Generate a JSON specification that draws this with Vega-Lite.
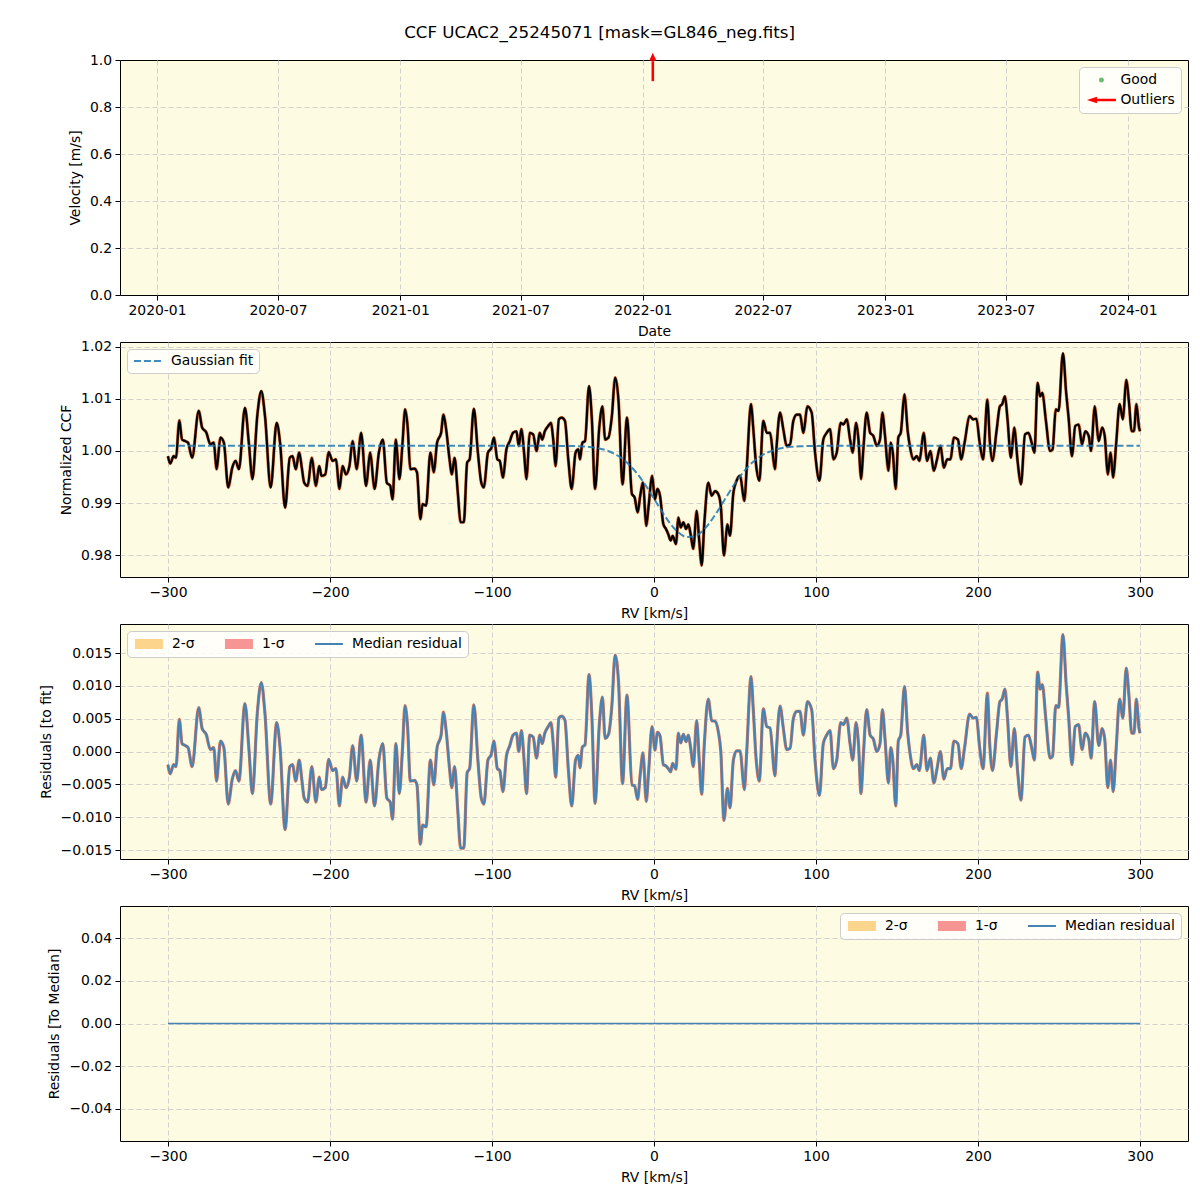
{
  "$schema": "https://vega.github.io/schema/vega-lite/v6.json",
  "padding": {"left": 38, "top": 24, "right": 12, "bottom": 10},
  "title": {"text": "CCF UCAC2_25245071 [mask=GL846_neg.fits]", "font": "DejaVu Sans", "fontSize": 16.7, "fontWeight": "normal", "color": "black", "anchor": "middle", "offset": 11, "dx": -14},
  "bounds": "flush",
  "spacing": 47,
  "datasets": {
    "ccf": [
      {"rv":-300,"ccf":0.9990,"res":-0.0020},{"rv":-298.6,"ccf":0.9976,"res":-0.0034},{"rv":-296.5,"ccf":0.9990,"res":-0.0020},{"rv":-295,"ccf":0.9987,"res":-0.0023},{"rv":-293,"ccf":1.0059,"res":0.0049},{"rv":-291.3,"ccf":1.0022,"res":0.0012},{"rv":-289.3,"ccf":1.0019,"res":0.0009},{"rv":-287.6,"ccf":1.0016,"res":0.0006},{"rv":-285.1,"ccf":0.9987,"res":-0.0023},{"rv":-281,"ccf":1.0077,"res":0.0067},
      {"rv":-278.9,"ccf":1.0045,"res":0.0035},{"rv":-276.4,"ccf":1.0036,"res":0.0026},{"rv":-273.8,"ccf":1.0013,"res":0.0003},{"rv":-271.7,"ccf":1.0016,"res":0.0006},{"rv":-270,"ccf":0.9965,"res":-0.0045},{"rv":-267.6,"ccf":1.0026,"res":0.0016},{"rv":-265.5,"ccf":1.0016,"res":0.0006},{"rv":-262.8,"ccf":0.9930,"res":-0.0080},{"rv":-260.3,"ccf":0.9968,"res":-0.0042},{"rv":-258.3,"ccf":0.9981,"res":-0.0029},
      {"rv":-256.2,"ccf":0.9965,"res":-0.0045},{"rv":-252.5,"ccf":1.0083,"res":0.0073},{"rv":-250,"ccf":1.0013,"res":0.0003},{"rv":-247.9,"ccf":0.9946,"res":-0.0064},{"rv":-244.8,"ccf":1.0070,"res":0.0060},{"rv":-242.4,"ccf":1.0115,"res":0.0105},{"rv":-240.1,"ccf":1.0067,"res":0.0057},{"rv":-236.6,"ccf":0.9930,"res":-0.0080},{"rv":-232.9,"ccf":1.0054,"res":0.0044},{"rv":-230.8,"ccf":1.0016,"res":0.0006},
      {"rv":-227.7,"ccf":0.9891,"res":-0.0119},{"rv":-224.8,"ccf":0.9987,"res":-0.0023},{"rv":-223.1,"ccf":0.9990,"res":-0.0020},{"rv":-221.1,"ccf":0.9965,"res":-0.0045},{"rv":-219,"ccf":0.9997,"res":-0.0013},{"rv":-217.4,"ccf":0.9968,"res":-0.0042},{"rv":-215.9,"ccf":0.9939,"res":-0.0071},{"rv":-213.8,"ccf":0.9933,"res":-0.0077},{"rv":-211.2,"ccf":0.9987,"res":-0.0023},{"rv":-208.7,"ccf":0.9933,"res":-0.0077},
      {"rv":-206.6,"ccf":0.9971,"res":-0.0039},{"rv":-205.2,"ccf":0.9952,"res":-0.0058},{"rv":-202.9,"ccf":0.9955,"res":-0.0055},{"rv":-200.8,"ccf":0.9998,"res":-0.0012},{"rv":-198.4,"ccf":0.9981,"res":-0.0029},{"rv":-196.3,"ccf":0.9984,"res":-0.0026},{"rv":-194.2,"ccf":0.9927,"res":-0.0083},{"rv":-192.2,"ccf":0.9971,"res":-0.0039},{"rv":-190.1,"ccf":0.9955,"res":-0.0055},{"rv":-188,"ccf":0.9971,"res":-0.0039},
      {"rv":-186,"ccf":1.0019,"res":0.0009},{"rv":-183.5,"ccf":0.9965,"res":-0.0045},{"rv":-180.8,"ccf":1.0035,"res":0.0025},{"rv":-177.7,"ccf":0.9933,"res":-0.0077},{"rv":-175.2,"ccf":0.9997,"res":-0.0013},{"rv":-172.5,"ccf":0.9927,"res":-0.0083},{"rv":-169.8,"ccf":0.9997,"res":-0.0013},{"rv":-167.4,"ccf":1.0022,"res":0.0012},{"rv":-164.9,"ccf":0.9939,"res":-0.0071},{"rv":-162.8,"ccf":0.9933,"res":-0.0077},
      {"rv":-161.4,"ccf":0.9907,"res":-0.0103},{"rv":-159.3,"ccf":1.0022,"res":0.0012},{"rv":-157.2,"ccf":0.9946,"res":-0.0064},{"rv":-155.2,"ccf":1.0016,"res":0.0006},{"rv":-153.7,"ccf":1.0080,"res":0.0070},{"rv":-152.1,"ccf":1.0048,"res":0.0038},{"rv":-150.4,"ccf":0.9965,"res":-0.0045},{"rv":-147.9,"ccf":0.9966,"res":-0.0044},{"rv":-146.3,"ccf":0.9959,"res":-0.0051},{"rv":-144.2,"ccf":0.9869,"res":-0.0141},
      {"rv":-142.8,"ccf":0.9898,"res":-0.0112},{"rv":-140.7,"ccf":0.9895,"res":-0.0115},{"rv":-138,"ccf":0.9997,"res":-0.0013},{"rv":-135.9,"ccf":0.9959,"res":-0.0051},{"rv":-133.9,"ccf":1.0016,"res":0.0006},{"rv":-131.4,"ccf":1.0035,"res":0.0025},{"rv":-130,"ccf":1.0070,"res":0.0060},{"rv":-128.3,"ccf":1.0042,"res":0.0032},{"rv":-126.2,"ccf":0.9984,"res":-0.0026},{"rv":-124.8,"ccf":0.9955,"res":-0.0055},
      {"rv":-123.1,"ccf":0.9987,"res":-0.0023},{"rv":-121.1,"ccf":0.9920,"res":-0.0090},{"rv":-119.4,"ccf":0.9863,"res":-0.0147},{"rv":-117.4,"ccf":0.9863,"res":-0.0147},{"rv":-115.3,"ccf":0.9978,"res":-0.0032},{"rv":-113.8,"ccf":0.9984,"res":-0.0026},{"rv":-111.2,"ccf":1.0081,"res":0.0071},{"rv":-108.7,"ccf":0.9997,"res":-0.0013},{"rv":-106.6,"ccf":0.9939,"res":-0.0071},{"rv":-105,"ccf":0.9930,"res":-0.0080},
      {"rv":-102.5,"ccf":0.9997,"res":-0.0013},{"rv":-100.4,"ccf":1.0006,"res":-0.0004},{"rv":-98.8,"ccf":1.0026,"res":0.0016},{"rv":-96.7,"ccf":0.9984,"res":-0.0026},{"rv":-95.2,"ccf":0.9981,"res":-0.0029},{"rv":-93.2,"ccf":0.9949,"res":-0.0061},{"rv":-91.1,"ccf":1.0003,"res":-0.0007},{"rv":-89,"ccf":1.0019,"res":0.0009},{"rv":-87,"ccf":1.0035,"res":0.0025},{"rv":-84.9,"ccf":1.0038,"res":0.0028},
      {"rv":-83.5,"ccf":1.0010,"res":0.0000},{"rv":-81.8,"ccf":1.0042,"res":0.0032},{"rv":-80.2,"ccf":0.9997,"res":-0.0013},{"rv":-78.7,"ccf":0.9946,"res":-0.0064},{"rv":-76.7,"ccf":1.0035,"res":0.0025},{"rv":-74.6,"ccf":1.0032,"res":0.0022},{"rv":-72.5,"ccf":1.0000,"res":-0.0010},{"rv":-70.5,"ccf":1.0035,"res":0.0025},{"rv":-69,"ccf":1.0022,"res":0.0012},{"rv":-67.4,"ccf":1.0038,"res":0.0028},
      {"rv":-65.3,"ccf":1.0048,"res":0.0038},{"rv":-63.6,"ccf":1.0054,"res":0.0044},{"rv":-62.2,"ccf":1.0022,"res":0.0012},{"rv":-60.7,"ccf":0.9971,"res":-0.0039},{"rv":-58.7,"ccf":1.0061,"res":0.0051},{"rv":-57,"ccf":1.0064,"res":0.0054},{"rv":-55,"ccf":1.0058,"res":0.0048},{"rv":-52.9,"ccf":0.9984,"res":-0.0026},{"rv":-50.8,"ccf":0.9927,"res":-0.0083},{"rv":-48.4,"ccf":0.9997,"res":-0.0013},
      {"rv":-46.7,"ccf":1.0003,"res":-0.0006},{"rv":-45.7,"ccf":0.9984,"res":-0.0025},{"rv":-44.2,"ccf":1.0016,"res":0.0007},{"rv":-42.6,"ccf":1.0019,"res":0.0010},{"rv":-40.1,"ccf":1.0125,"res":0.0117},{"rv":-38.4,"ccf":1.0064,"res":0.0057},{"rv":-36.4,"ccf":0.9927,"res":-0.0079},{"rv":-33.7,"ccf":1.0048,"res":0.0043},{"rv":-31.8,"ccf":1.0086,"res":0.0083},{"rv":-30.2,"ccf":1.0022,"res":0.0020},
      {"rv":-28.1,"ccf":1.0026,"res":0.0026},{"rv":-26,"ccf":1.0067,"res":0.0070},{"rv":-24,"ccf":1.0141,"res":0.0147},{"rv":-21.9,"ccf":1.0096,"res":0.0106},{"rv":-19.4,"ccf":0.9936,"res":-0.0049},{"rv":-16.7,"ccf":1.0064,"res":0.0086},{"rv":-13.6,"ccf":0.9917,"res":-0.0051},{"rv":-12,"ccf":0.9911,"res":-0.0052},{"rv":-10.1,"ccf":0.9882,"res":-0.0073},{"rv":-8.5,"ccf":0.9914,"res":-0.0035},
      {"rv":-6.8,"ccf":0.9939,"res":-0.0002},{"rv":-4.8,"ccf":0.9856,"res":-0.0076},{"rv":-3.3,"ccf":0.9895,"res":-0.0030},{"rv":-1.2,"ccf":0.9952,"res":0.0038},{"rv":0.6,"ccf":0.9907,"res":0.0002},{"rv":2.1,"ccf":0.9927,"res":0.0029},{"rv":3.7,"ccf":0.9914,"res":0.0024},{"rv":5.8,"ccf":0.9859,"res":-0.0020},{"rv":7.4,"ccf":0.9850,"res":-0.0022},{"rv":8.8,"ccf":0.9840,"res":-0.0026},
      {"rv":10.3,"ccf":0.9828,"res":-0.0031},{"rv":11.5,"ccf":0.9837,"res":-0.0018},{"rv":13.6,"ccf":0.9821,"res":-0.0027},{"rv":15,"ccf":0.9872,"res":0.0028},{"rv":16.5,"ccf":0.9853,"res":0.0013},{"rv":18.1,"ccf":0.9863,"res":0.0026},{"rv":19.8,"ccf":0.9850,"res":0.0015},{"rv":21.2,"ccf":0.9859,"res":0.0025},{"rv":22.6,"ccf":0.9840,"res":0.0006},{"rv":24.3,"ccf":0.9812,"res":-0.0023},
      {"rv":26.3,"ccf":0.9885,"res":0.0047},{"rv":28,"ccf":0.9824,"res":-0.0017},{"rv":29.4,"ccf":0.9780,"res":-0.0065},{"rv":31.1,"ccf":0.9863,"res":0.0013},{"rv":33.5,"ccf":0.9939,"res":0.0080},{"rv":35.6,"ccf":0.9914,"res":0.0047},{"rv":37.7,"ccf":0.9923,"res":0.0046},{"rv":39.7,"ccf":0.9917,"res":0.0030},{"rv":41.2,"ccf":0.9895,"res":0.0001},{"rv":43.2,"ccf":0.9799,"res":-0.0105},
      {"rv":45.3,"ccf":0.9859,"res":-0.0056},{"rv":46.9,"ccf":0.9837,"res":-0.0086},{"rv":49,"ccf":0.9920,"res":-0.0013},{"rv":51,"ccf":0.9943,"res":0.0001},{"rv":53.1,"ccf":0.9952,"res":0.0001},{"rv":55.8,"ccf":0.9904,"res":-0.0058},{"rv":57.2,"ccf":0.9965,"res":-0.0002},{"rv":59.9,"ccf":1.0090,"res":0.0114},{"rv":61.3,"ccf":1.0042,"res":0.0063},{"rv":63,"ccf":0.9974,"res":-0.0010},
      {"rv":65,"ccf":0.9943,"res":-0.0045},{"rv":67.5,"ccf":1.0058,"res":0.0065},{"rv":69.6,"ccf":1.0035,"res":0.0038},{"rv":71.6,"ccf":1.0035,"res":0.0036},{"rv":74.7,"ccf":0.9965,"res":-0.0037},{"rv":75.7,"ccf":1.0010,"res":0.0007},{"rv":77.8,"ccf":1.0074,"res":0.0069},{"rv":79.8,"ccf":1.0042,"res":0.0036},{"rv":81.9,"ccf":1.0010,"res":0.0003},{"rv":84,"ccf":1.0013,"res":0.0005},
      {"rv":86,"ccf":1.0058,"res":0.0050},{"rv":88.1,"ccf":1.0070,"res":0.0061},{"rv":90.1,"ccf":1.0070,"res":0.0061},{"rv":92.2,"ccf":1.0035,"res":0.0025},{"rv":94.7,"ccf":1.0086,"res":0.0076},{"rv":97.3,"ccf":1.0074,"res":0.0064},{"rv":99.4,"ccf":0.9997,"res":-0.0013},{"rv":102.1,"ccf":0.9943,"res":-0.0067},{"rv":104.5,"ccf":1.0022,"res":0.0012},{"rv":106.6,"ccf":1.0035,"res":0.0025},
      {"rv":108.7,"ccf":1.0042,"res":0.0032},{"rv":110.7,"ccf":0.9984,"res":-0.0026},{"rv":112.8,"ccf":0.9997,"res":-0.0013},{"rv":115.2,"ccf":1.0054,"res":0.0044},{"rv":116.9,"ccf":1.0051,"res":0.0041},{"rv":119,"ccf":1.0061,"res":0.0051},{"rv":121,"ccf":1.0022,"res":0.0012},{"rv":122.7,"ccf":0.9997,"res":-0.0013},{"rv":124.7,"ccf":1.0054,"res":0.0044},{"rv":126.2,"ccf":1.0022,"res":0.0012},
      {"rv":127.8,"ccf":0.9946,"res":-0.0064},{"rv":129.2,"ccf":1.0003,"res":-0.0007},{"rv":131.3,"ccf":1.0074,"res":0.0064},{"rv":133.4,"ccf":1.0035,"res":0.0025},{"rv":135.4,"ccf":1.0029,"res":0.0019},{"rv":137.5,"ccf":1.0010,"res":0.0000},{"rv":139.5,"ccf":1.0022,"res":0.0012},{"rv":141,"ccf":1.0074,"res":0.0064},{"rv":142.6,"ccf":1.0029,"res":0.0019},{"rv":144.7,"ccf":0.9962,"res":-0.0048},
      {"rv":146.1,"ccf":1.0016,"res":0.0006},{"rv":147.4,"ccf":0.9997,"res":-0.0013},{"rv":149.2,"ccf":0.9927,"res":-0.0083},{"rv":150.8,"ccf":1.0026,"res":0.0016},{"rv":152.3,"ccf":1.0035,"res":0.0025},{"rv":154.6,"ccf":1.0109,"res":0.0099},{"rv":156.6,"ccf":1.0038,"res":0.0028},{"rv":158.1,"ccf":1.0006,"res":-0.0004},{"rv":160.1,"ccf":0.9984,"res":-0.0026},{"rv":162.2,"ccf":0.9990,"res":-0.0020},
      {"rv":163.8,"ccf":0.9981,"res":-0.0029},{"rv":166.5,"ccf":1.0035,"res":0.0025},{"rv":168.5,"ccf":0.9981,"res":-0.0029},{"rv":170.6,"ccf":1.0000,"res":-0.0010},{"rv":172.7,"ccf":0.9962,"res":-0.0048},{"rv":174.7,"ccf":0.9984,"res":-0.0026},{"rv":176.8,"ccf":1.0010,"res":0.0000},{"rv":178.9,"ccf":0.9968,"res":-0.0042},{"rv":181,"ccf":0.9984,"res":-0.0026},{"rv":183,"ccf":0.9984,"res":-0.0026},
      {"rv":185.1,"ccf":1.0026,"res":0.0016},{"rv":187.6,"ccf":1.0022,"res":0.0012},{"rv":189.6,"ccf":0.9984,"res":-0.0026},{"rv":191.7,"ccf":1.0016,"res":0.0006},{"rv":194.8,"ccf":1.0067,"res":0.0057},{"rv":196.9,"ccf":1.0061,"res":0.0051},{"rv":199,"ccf":1.0062,"res":0.0052},{"rv":201,"ccf":1.0016,"res":0.0006},{"rv":203.1,"ccf":0.9984,"res":-0.0026},{"rv":205.8,"ccf":1.0099,"res":0.0089},
      {"rv":207.2,"ccf":1.0022,"res":0.0012},{"rv":208.9,"ccf":0.9981,"res":-0.0029},{"rv":211.4,"ccf":1.0038,"res":0.0028},{"rv":213.5,"ccf":1.0086,"res":0.0076},{"rv":214.9,"ccf":1.0090,"res":0.0080},{"rv":216.6,"ccf":1.0105,"res":0.0095},{"rv":218.2,"ccf":1.0061,"res":0.0051},{"rv":220.3,"ccf":0.9987,"res":-0.0023},{"rv":222.4,"ccf":1.0045,"res":0.0035},{"rv":224.4,"ccf":0.9981,"res":-0.0029},
      {"rv":226.5,"ccf":0.9936,"res":-0.0074},{"rv":229,"ccf":1.0032,"res":0.0022},{"rv":231.1,"ccf":1.0035,"res":0.0025},{"rv":233.1,"ccf":1.0016,"res":0.0006},{"rv":234.8,"ccf":0.9997,"res":-0.0013},{"rv":236.8,"ccf":1.0131,"res":0.0121},{"rv":238.3,"ccf":1.0105,"res":0.0095},{"rv":239.7,"ccf":1.0112,"res":0.0102},{"rv":241.8,"ccf":1.0061,"res":0.0051},{"rv":244.5,"ccf":1.0000,"res":-0.0010},
      {"rv":246,"ccf":1.0003,"res":-0.0007},{"rv":248,"ccf":1.0080,"res":0.0070},{"rv":249.7,"ccf":1.0077,"res":0.0067},{"rv":252.4,"ccf":1.0188,"res":0.0178},{"rv":254.4,"ccf":1.0112,"res":0.0102},{"rv":255.9,"ccf":1.0064,"res":0.0054},{"rv":258,"ccf":0.9990,"res":-0.0020},{"rv":260,"ccf":1.0048,"res":0.0038},{"rv":262.1,"ccf":1.0051,"res":0.0041},{"rv":264.2,"ccf":1.0013,"res":0.0003},
      {"rv":266.2,"ccf":1.0038,"res":0.0028},{"rv":268.3,"ccf":1.0029,"res":0.0019},{"rv":269.8,"ccf":1.0000,"res":-0.0010},{"rv":272,"ccf":1.0086,"res":0.0076},{"rv":274.5,"ccf":1.0019,"res":0.0009},{"rv":276.6,"ccf":1.0045,"res":0.0035},{"rv":278.2,"ccf":1.0029,"res":0.0019},{"rv":280.1,"ccf":0.9955,"res":-0.0055},{"rv":281.8,"ccf":0.9997,"res":-0.0013},{"rv":283.4,"ccf":0.9949,"res":-0.0061},
      {"rv":285.3,"ccf":1.0016,"res":0.0006},{"rv":287.4,"ccf":1.0090,"res":0.0080},{"rv":289.4,"ccf":1.0061,"res":0.0051},{"rv":291.5,"ccf":1.0137,"res":0.0127},{"rv":293.2,"ccf":1.0093,"res":0.0083},{"rv":294.8,"ccf":1.0038,"res":0.0028},{"rv":296.3,"ccf":1.0038,"res":0.0028},{"rv":297.7,"ccf":1.0090,"res":0.0080},{"rv":299.4,"ccf":1.0045,"res":0.0035},{"rv":300,"ccf":1.0038,"res":0.0028}
    ],
    "fit": [
      {"rv":-300,"fit":1.0010},{"rv":-70,"fit":1.0010},{"rv":-60,"fit":1.00099},{"rv":-50,"fit":1.00095},{"rv":-40,"fit":1.00077},{"rv":-35,"fit":1.00056},{"rv":-30,"fit":1.00018},{"rv":-25,"fit":0.99956},{"rv":-20,"fit":0.99862},{"rv":-15,"fit":0.99727},{"rv":-10,"fit":0.99549},{"rv":-5,"fit":0.9933},{"rv":0,"fit":0.99083},{"rv":5,"fit":0.98832},{"rv":10,"fit":0.98605},{"rv":15,"fit":0.98435},{"rv":20,"fit":0.98348},{"rv":25,"fit":0.98358},{"rv":30,"fit":0.98463},{"rv":35,"fit":0.98647},{"rv":40,"fit":0.98881},{"rv":45,"fit":0.99134},{"rv":50,"fit":0.99376},{"rv":55,"fit":0.99588},{"rv":60,"fit":0.99758},{"rv":65,"fit":0.99884},{"rv":70,"fit":0.99971},{"rv":75,"fit":1.00027},{"rv":80,"fit":1.00061},{"rv":85,"fit":1.0008},{"rv":90,"fit":1.00091},{"rv":100,"fit":1.00098},{"rv":110,"fit":1.0010},{"rv":300,"fit":1.0010}
    ],
    "flat": [
      {"rv":-300,"res":0},{"rv":-200,"res":0},{"rv":-100,"res":0},{"rv":0,"res":0},{"rv":100,"res":0},{"rv":200,"res":0},{"rv":300,"res":0}
    ]
  },
  "vconcat": [
    {
      "width": 1068, "height": 235,
      "layer": [
        {
          "data": {"values": [{"date": "2022-01-16", "y0": 0.91, "y1": 0.995}]},
          "mark": {"type": "rule", "color": "red", "strokeWidth": 2.6},
          "encoding": {
            "x": {"field": "date", "type": "temporal",
                  "scale": {"type": "utc", "domain": [{"year": 2019, "month": 11, "date": 6, "hours": 7, "utc": true}, {"year": 2024, "month": 3, "date": 31, "hours": 7, "utc": true}], "nice": false},
                  "axis": {"title": "Date", "format": "%Y-%m", "grid": true, "tickCount": 20,
                           "values": [{"year": 2020, "month": 1, "date": 1, "utc": true}, {"year": 2020, "month": 7, "date": 1, "utc": true}, {"year": 2021, "month": 1, "date": 1, "utc": true}, {"year": 2021, "month": 7, "date": 1, "utc": true}, {"year": 2022, "month": 1, "date": 1, "utc": true}, {"year": 2022, "month": 7, "date": 1, "utc": true}, {"year": 2023, "month": 1, "date": 1, "utc": true}, {"year": 2023, "month": 7, "date": 1, "utc": true}, {"year": 2024, "month": 1, "date": 1, "utc": true}]}},
            "y": {"field": "y0", "type": "quantitative", "scale": {"domain": [0, 1], "nice": false, "zero": false},
                  "axis": {"title": "Velocity [m/s]", "values": [0, 0.2, 0.4, 0.6, 0.8, 1.0], "tickCount": 20, "format": ".1f", "grid": true,
                           "gridOpacity": {"condition": {"test": "datum.value <= 0 || datum.value >= 1", "value": 0}, "value": 1}}},
            "y2": {"field": "y1"}
          }
        },
        {
          "data": {"values": [{"date": "2022-01-16", "y": 1.014}]},
          "mark": {"type": "point", "shape": "M0,-1L0.9,1L-0.9,1Z", "filled": true, "color": "red", "size": 64, "opacity": 1},
          "encoding": {
            "x": {"field": "date", "type": "temporal"},
            "y": {"field": "y", "type": "quantitative"}
          }
        },
        {
          "data": {"values": [{"date": "2021-01-01", "y": -5, "k": "Good"}, {"date": "2021-01-01", "y": -5, "k": "Outliers"}]},
          "mark": {"type": "point", "filled": true, "clip": true, "opacity": 1},
          "encoding": {
            "x": {"field": "date", "type": "temporal"},
            "y": {"field": "y", "type": "quantitative"},
            "color": {"field": "k", "type": "nominal", "scale": {"domain": ["Good", "Outliers"], "range": ["#6cbd6c", "#ff0000"]},
                      "legend": {"title": null, "orient": "top-right", "offset": 7, "symbolSize": 100, "symbolStrokeWidth": 0, "symbolOffset": 9.5, "labelOffset": 12, "rowPadding": 5, "padding": 6}},
            "shape": {"field": "k", "type": "nominal", "scale": {"domain": ["Good", "Outliers"], "range": ["M0.5,0A0.5,0.5,0,1,1,-0.5,0A0.5,0.5,0,1,1,0.5,0Z", "M-2.9,0L-0.9,-0.66L-0.9,-0.24L2.9,-0.24L2.9,0.24L-0.9,0.24L-0.9,0.66Z"]},
                      "legend": {"title": null, "orient": "top-right", "offset": 7, "symbolSize": 100, "symbolStrokeWidth": 0, "symbolOffset": 9.5, "labelOffset": 12, "rowPadding": 5, "padding": 6}}
          }
        }
      ]
    },
    {
      "width": 1068, "height": 235,
      "layer": [
        {
          "data": {"name": "ccf"},
          "mark": {"type": "line", "color": "#dc6e3c", "strokeWidth": 3.2, "interpolate": "monotone"},
          "encoding": {
            "x": {"field": "rv", "type": "quantitative", "scale": {"domain": [-329.6, 329.6], "nice": false, "zero": false},
                  "axis": {"title": "RV [km/s]", "values": [-300, -200, -100, 0, 100, 200, 300], "tickCount": 20, "format": "d", "grid": true}},
            "y": {"field": "ccf", "type": "quantitative", "scale": {"domain": [0.97577, 1.02096], "nice": false, "zero": false},
                  "axis": {"title": "Normalized CCF", "values": [0.98, 0.99, 1.0, 1.01, 1.02], "tickCount": 20, "format": ".2f", "grid": true}}
          }
        },
        {
          "data": {"name": "ccf"},
          "mark": {"type": "line", "color": "black", "strokeWidth": 2.2, "interpolate": "monotone"},
          "encoding": {
            "x": {"field": "rv", "type": "quantitative"},
            "y": {"field": "ccf", "type": "quantitative"}
          }
        },
        {
          "data": {"name": "fit"},
          "mark": {"type": "line", "strokeWidth": 2, "strokeDash": [7, 3], "opacity": 0.85, "interpolate": "monotone"},
          "encoding": {
            "x": {"field": "rv", "type": "quantitative"},
            "y": {"field": "fit", "type": "quantitative"},
            "color": {"datum": "Gaussian fit", "type": "nominal", "scale": {"range": ["#1f77b4"]},
                      "legend": {"title": null, "orient": "top-left", "offset": 7, "symbolType": "M-2.8,0L2.8,0", "symbolSize": 100, "symbolDash": [7, 3], "symbolStrokeWidth": 2, "symbolOffset": 9, "labelOffset": 16, "padding": 5}}
          }
        }
      ]
    },
    {
      "width": 1068, "height": 235,
      "layer": [
        {
          "data": {"name": "ccf"},
          "mark": {"type": "line", "color": "#e0785a", "strokeWidth": 3.2, "interpolate": "monotone"},
          "encoding": {
            "x": {"field": "rv", "type": "quantitative", "scale": {"domain": [-329.6, 329.6], "nice": false, "zero": false},
                  "axis": {"title": "RV [km/s]", "values": [-300, -200, -100, 0, 100, 200, 300], "tickCount": 20, "format": "d", "grid": true}},
            "y": {"field": "res", "type": "quantitative", "scale": {"domain": [-0.01637, 0.01942], "nice": false, "zero": false},
                  "axis": {"title": "Residuals [to fit]", "values": [-0.015, -0.01, -0.005, 0, 0.005, 0.01, 0.015], "tickCount": 20, "format": ".3f", "grid": true}}
          }
        },
        {
          "data": {"name": "ccf"},
          "mark": {"type": "line", "color": "#4682b4", "strokeWidth": 2.2, "interpolate": "monotone"},
          "encoding": {
            "x": {"field": "rv", "type": "quantitative"},
            "y": {"field": "res", "type": "quantitative"}
          }
        },
        {
          "data": {"values": [{"rv": 0, "res": 1, "k3": "2-σ"}, {"rv": 0, "res": 1, "k3": "1-σ"}, {"rv": 0, "res": 1, "k3": "Median residual"}]},
          "mark": {"type": "point", "filled": true, "clip": true, "opacity": 1},
          "encoding": {
            "x": {"field": "rv", "type": "quantitative"},
            "y": {"field": "res", "type": "quantitative"},
            "color": {"field": "k3", "type": "nominal", "scale": {"domain": ["2-σ", "1-σ", "Median residual"], "range": ["#fdd48c", "#f79494", "#4682b4"]},
                      "legend": {"title": null, "orient": "top-left", "offset": 7, "direction": "horizontal", "symbolSize": 100, "symbolStrokeWidth": 0, "symbolOffset": 9, "labelOffset": 16, "columnPadding": 28, "padding": 6}},
            "shape": {"field": "k3", "type": "nominal", "scale": {"domain": ["2-σ", "1-σ", "Median residual"], "range": ["M-2.8,-1L2.8,-1L2.8,1L-2.8,1Z", "M-2.8,-1L2.8,-1L2.8,1L-2.8,1Z", "M-2.8,-0.2L2.8,-0.2L2.8,0.2L-2.8,0.2Z"]},
                      "legend": {"title": null, "orient": "top-left", "offset": 7, "direction": "horizontal", "symbolSize": 100, "symbolStrokeWidth": 0, "symbolOffset": 9, "labelOffset": 16, "columnPadding": 28, "padding": 6}}
          }
        }
      ]
    },
    {
      "width": 1068, "height": 235,
      "layer": [
        {
          "data": {"name": "flat"},
          "mark": {"type": "line", "color": "#4682b4", "strokeWidth": 1.6},
          "encoding": {
            "x": {"field": "rv", "type": "quantitative", "scale": {"domain": [-329.6, 329.6], "nice": false, "zero": false},
                  "axis": {"title": "RV [km/s]", "values": [-300, -200, -100, 0, 100, 200, 300], "tickCount": 20, "format": "d", "grid": true}},
            "y": {"field": "res", "type": "quantitative", "scale": {"domain": [-0.055, 0.055], "nice": false, "zero": false},
                  "axis": {"title": "Residuals [To Median]", "values": [-0.04, -0.02, 0, 0.02, 0.04], "tickCount": 20, "format": ".2f", "grid": true}}
          }
        },
        {
          "data": {"values": [{"rv": 0, "res": 1, "k4": "2-σ"}, {"rv": 0, "res": 1, "k4": "1-σ"}, {"rv": 0, "res": 1, "k4": "Median residual"}]},
          "mark": {"type": "point", "filled": true, "clip": true, "opacity": 1},
          "encoding": {
            "x": {"field": "rv", "type": "quantitative"},
            "y": {"field": "res", "type": "quantitative"},
            "color": {"field": "k4", "type": "nominal", "scale": {"domain": ["2-σ", "1-σ", "Median residual"], "range": ["#fdd48c", "#f79494", "#4682b4"]},
                      "legend": {"title": null, "orient": "top-right", "offset": 7, "direction": "horizontal", "symbolSize": 100, "symbolStrokeWidth": 0, "symbolOffset": 9, "labelOffset": 16, "columnPadding": 28, "padding": 6}},
            "shape": {"field": "k4", "type": "nominal", "scale": {"domain": ["2-σ", "1-σ", "Median residual"], "range": ["M-2.8,-1L2.8,-1L2.8,1L-2.8,1Z", "M-2.8,-1L2.8,-1L2.8,1L-2.8,1Z", "M-2.8,-0.2L2.8,-0.2L2.8,0.2L-2.8,0.2Z"]},
                      "legend": {"title": null, "orient": "top-right", "offset": 7, "direction": "horizontal", "symbolSize": 100, "symbolStrokeWidth": 0, "symbolOffset": 9, "labelOffset": 16, "columnPadding": 28, "padding": 6}}
          }
        }
      ]
    }
  ],
  "resolve": {
    "scale": {"x": "independent", "y": "independent", "color": "independent", "shape": "independent"},
    "axis": {"x": "independent", "y": "independent"},
    "legend": {"color": "independent", "shape": "independent"}
  },
  "config": {
    "font": "DejaVu Sans",
    "background": "white",
    "view": {"fill": "#fdfbe2", "stroke": "black", "strokeWidth": 1},
    "axis": {
      "labelFont": "DejaVu Sans", "labelFontSize": 13.9, "labelColor": "black",
      "titleFont": "DejaVu Sans", "titleFontSize": 13.9, "titleFontWeight": "normal", "titleColor": "black",
      "tickColor": "black", "tickSize": 5, "tickWidth": 1, "domain": false,
      "gridColor": "#cccccc", "gridDash": [5, 3], "gridWidth": 0.9,
      "labelPadding": 3.5, "titlePadding": 7, "labelOverlap": false
    },
    "legend": {
      "labelFont": "DejaVu Sans", "labelFontSize": 13.9, "labelColor": "black",
      "fillColor": "rgba(255,255,255,0.8)", "strokeColor": "#cccccc", "cornerRadius": 4
    }
  }
}
